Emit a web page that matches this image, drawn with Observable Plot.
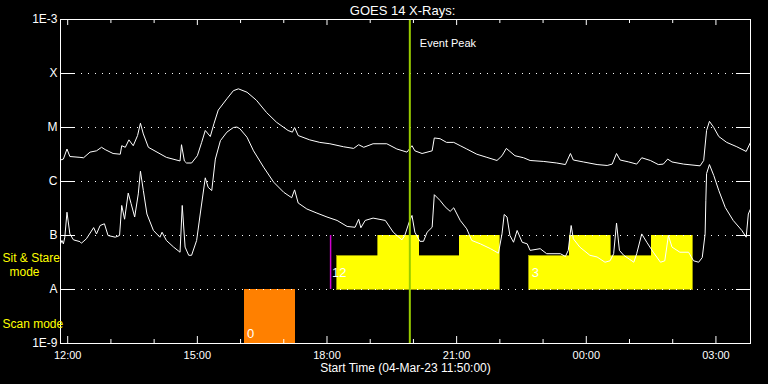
<!DOCTYPE html>
<html>
<head>
<meta charset="utf-8">
<script src="https://cdn.jsdelivr.net/npm/d3@7"></script>
<script src="https://cdn.jsdelivr.net/npm/@observablehq/plot@0.6"></script>
<style>
  html, body { margin: 0; padding: 0; background: #000; }
</style>
</head>
<body>
<div id="chart"></div>
<script>
// ---- Data (times UTC, flux W/m^2) ----
const longTimes = ["11:50","11:54","11:59","12:03","12:17","12:22","12:31","12:40","12:47","12:52","13:03","13:13","13:15","13:20","13:25","13:31","13:37","13:41","13:45","13:52","14:04","14:17","14:36","14:38","14:42","14:45","14:52","15:00","15:06","15:11","15:18","15:23","15:29","15:41","15:50","15:57","16:09","16:22","16:36","16:50","17:06","17:12","17:15","17:20","17:36","17:50","18:04","18:23","18:37","18:44","18:51","19:04","19:23","19:37","19:51","19:58","20:02","20:12","20:26","20:29","20:37","20:46","20:56","21:05","21:14","21:28","21:42","21:56","22:03","22:09","22:14","22:21","22:33","22:42","23:01","23:19","23:31","23:38","23:42","23:56","00:15","00:29","00:36","00:42","00:47","00:59","01:10","01:17","01:29","01:40","01:47","01:53","01:59","02:15","02:38","02:43","02:47","02:51","02:57","03:04","03:15","03:29","03:42","03:48"];
const longFlux = [2.5e-6,2.6e-6,4.0e-6,2.9e-6,2.8e-6,2.75e-6,3.5e-6,3.7e-6,4.3e-6,3.9e-6,3.3e-6,3.2e-6,4.6e-6,4.3e-6,5.9e-6,4.6e-6,7.1e-6,1.2e-5,7.6e-6,4.3e-6,3.5e-6,2.8e-6,2.4e-6,4.8e-6,2.4e-6,2.2e-6,2.2e-6,3.0e-6,5.3e-6,8.8e-6,6.8e-6,1.17e-5,2.1e-5,3.4e-5,4.8e-5,5.2e-5,4.5e-5,3.2e-5,1.9e-5,1.25e-5,8.8e-6,8.2e-6,1.0e-5,7.1e-6,5.9e-6,5.3e-6,5.0e-6,4.4e-6,4.1e-6,4.8e-6,4.3e-6,5.0e-6,5.0e-6,4.0e-6,3.5e-6,4.6e-6,3.7e-6,3.3e-6,3.7e-6,6.4e-6,6.2e-6,5.3e-6,5.3e-6,4.6e-6,4.0e-6,3.2e-6,2.8e-6,2.45e-6,3.0e-6,4.1e-6,3.6e-6,3.0e-6,2.75e-6,2.45e-6,2.35e-6,2.2e-6,2.06e-6,3.3e-6,2.5e-6,2.3e-6,2.06e-6,1.98e-6,2.1e-6,3.3e-6,2.5e-6,2.3e-6,2.1e-6,2.75e-6,2.45e-6,2.06e-6,2.1e-6,2.6e-6,2.3e-6,2.1e-6,1.95e-6,2.45e-6,8.8e-6,1.3e-5,1.0e-5,6.8e-6,5.3e-6,4.4e-6,3.6e-6,5.3e-6];

const shortTimes = ["11:50","11:52","11:54","11:56","11:59","12:03","12:08","12:17","12:19","12:26","12:36","12:40","12:45","12:51","12:56","13:06","13:12","13:15","13:19","13:24","13:28","13:33","13:38","13:41","13:45","13:50","13:59","14:08","14:11","14:17","14:27","14:36","14:39","14:43","14:48","14:52","14:59","15:04","15:11","15:15","15:20","15:25","15:32","15:41","15:50","15:55","15:59","16:09","16:18","16:32","16:46","17:00","17:11","17:15","17:20","17:32","17:46","18:00","18:14","18:28","18:39","18:44","18:47","18:53","19:04","19:21","19:32","19:44","19:48","19:54","19:58","20:02","20:09","20:14","20:19","20:26","20:29","20:37","20:44","20:51","20:56","21:05","21:14","21:21","21:33","21:47","21:58","22:03","22:06","22:10","22:14","22:19","22:24","22:31","22:38","22:42","22:56","23:05","23:24","23:31","23:35","23:39","23:42","23:51","00:05","00:15","00:26","00:33","00:38","00:42","00:46","00:52","01:06","01:10","01:17","01:24","01:33","01:43","01:49","01:54","01:59","02:10","02:22","02:29","02:36","02:41","02:45","02:46","02:47","02:51","02:57","03:04","03:13","03:24","03:36","03:42","03:45","03:48"];
const shortFlux = [7.0e-8,8.1e-8,7.0e-8,9.3e-8,2.7e-7,1.07e-7,8.3e-8,7.7e-8,7.2e-8,8.7e-8,1.4e-7,1.07e-7,1.53e-7,1.65e-7,1.0e-7,9.3e-8,1.0e-7,3.6e-7,2.0e-7,6.1e-7,3.9e-7,2.2e-7,5.9e-7,1.55e-6,6.8e-7,2.5e-7,1.24e-7,9.3e-8,1.15e-7,8.1e-8,6.1e-8,4.9e-8,3.6e-7,6.1e-8,4.3e-8,4.3e-8,8.1e-8,2.5e-7,1.17e-6,7.8e-7,6.8e-7,2.6e-6,5.7e-6,8.2e-6,1.0e-5,1.02e-5,9.5e-6,6.6e-6,3.7e-6,1.84e-6,9.7e-7,6.3e-7,5.0e-7,7.0e-7,4.0e-7,3.1e-7,2.6e-7,2.2e-7,1.9e-7,1.47e-7,1.42e-7,2.0e-7,1.39e-7,1.9e-7,2.1e-7,1.9e-7,1.15e-7,8.3e-8,1.0e-7,1.76e-7,2.35e-7,1.15e-7,7.8e-8,7.8e-8,1.15e-7,1.42e-7,5.7e-7,4.45e-7,3.4e-7,2.8e-7,3.26e-7,1.9e-7,1.33e-7,8.1e-8,7.0e-8,5.7e-8,4.7e-8,1.07e-7,2.45e-7,2.2e-7,1.0e-7,7.5e-8,1.24e-7,7.5e-8,7.0e-8,5.3e-8,5.7e-8,4.6e-8,4.6e-8,4.1e-8,5.3e-8,1.53e-7,8.7e-8,6.1e-8,4.3e-8,4.0e-8,3.2e-8,3.4e-8,4.6e-8,1.7e-7,5.3e-8,4.3e-8,3.2e-8,4.6e-8,1.07e-7,7.5e-8,4.9e-8,3.2e-8,3.4e-8,1.0e-7,6.1e-8,4.9e-8,4.9e-8,3.4e-8,3.2e-8,3.9e-8,1.07e-7,4.5e-7,1.4e-6,2.06e-6,1.29e-6,6.8e-7,3.3e-7,1.9e-7,1.24e-7,9.3e-8,2.5e-7,3.1e-7];

// Flux class levels and labels
const levelValues = [1e-3, 1e-4, 1e-5, 1e-6, 1e-7, 1e-8, 1e-9];
const levelLabels = ["1E-3", "X", "M", "C", "B", "A", "1E-9"];
const gridLevels = [1e-4, 1e-5, 1e-6, 1e-7, 1e-8];

// Time axis
const startTime = "11:50";
const endTime = "03:48";
const hourTicks = ["12:00","13:00","14:00","15:00","16:00","17:00","18:00","19:00","20:00","21:00","22:00","23:00","00:00","01:00","02:00","03:00"];
const majorTicks = ["12:00","15:00","18:00","21:00","00:00","03:00"];

// Instrument modes
const scanStart = ["16:05"];
const scanEnd = ["17:16"];
const scanLabel = ["0"];
const stareStart = ["18:14","19:11","20:08","21:04","22:41","23:37","00:34","01:31"];
const stareEnd   = ["19:11","20:08","21:04","22:00","23:37","00:34","01:31","02:28"];
const stareTop   = [4.1e-8, 1e-7, 4.1e-8, 1e-7, 4.1e-8, 1e-7, 4.1e-8, 1e-7];
const stareLabelTimes = ["18:14","22:41"];
const stareLabels = ["12","3"];
const modeBottom = 1e-8, modeTop = 1e-7, scanBottom = 1e-9;
const markerTime = "18:05";
const eventPeakTime = "19:55";

// ---- Helpers ----
function toDate(hhmm) {
  const [h, m] = hhmm.split(":").map(Number);
  const day = h < 11 ? 5 : 4;
  return new Date(Date.UTC(2023, 2, day, h, m));
}
const longData = longTimes.map((t, i) => ({t: toDate(t), f: longFlux[i]}));
const shortData = shortTimes.map((t, i) => ({t: toDate(t), f: shortFlux[i]}));
const stareData = stareStart.map((s, i) => ({x1: toDate(s), x2: toDate(stareEnd[i]), y2: stareTop[i]}));
const scanData = scanStart.map((s, i) => ({x1: toDate(s), x2: toDate(scanEnd[i]), label: scanLabel[i]}));
const stareLabelData = stareLabelTimes.map((t, i) => ({x: toDate(t), label: stareLabels[i]}));
const hours = hourTicks.map(toDate);
const majors = majorTicks.map(toDate);
const minors = hours.filter(h => !majors.some(m => +m === +h));

const W = 768, H = 384, mT = 19, mB = 41, mL = 60, mR = 18;
const fw = W - mL - mR, fh = H - mT - mB;
const FONT = "'Liberation Sans', 'DejaVu Sans', sans-serif";

const chart = Plot.plot({
  width: W, height: H,
  marginTop: mT, marginBottom: mB, marginLeft: mL, marginRight: mR,
  style: {background: "#000", color: "#fff", fontFamily: FONT, fontSize: "11px"},
  x: {type: "utc", domain: [toDate(startTime), toDate(endTime)]},
  y: {type: "log", domain: [1e-9, 1e-3]},
  marks: [
    // mode blocks
    Plot.rect(scanData, {x1: "x1", x2: "x2", y1: () => scanBottom, y2: () => modeBottom, fill: "#ff8000", shapeRendering: "crispEdges"}),
    Plot.rect(stareData, {x1: "x1", x2: "x2", y1: () => modeBottom, y2: "y2", fill: "#ffff00", stroke: "#ffff00", strokeWidth: 0.6, shapeRendering: "crispEdges"}),
    // dotted grid + solid inward ticks
    Plot.ruleY(gridLevels, {y: d => d, stroke: "#fff", strokeDasharray: "1,6", insetLeft: 14, insetRight: 14}),
    Plot.tickY(gridLevels, {y: d => d, stroke: "#fff", insetRight: fw - 14}),
    Plot.tickY(gridLevels, {y: d => d, stroke: "#fff", insetLeft: fw - 14}),
    // time ticks (inward, bottom and top)
    Plot.tickX(majors, {x: d => d, stroke: "#fff", insetTop: fh - 7}),
    Plot.tickX(minors, {x: d => d, stroke: "#fff", insetTop: fh - 4}),
    Plot.tickX(majors, {x: d => d, stroke: "#fff", insetBottom: fh - 6}),
    Plot.tickX(minors, {x: d => d, stroke: "#fff", insetBottom: fh - 4}),
    // axes
    Plot.axisX(majors, {tickSize: 0, tickPadding: 8, tickFormat: d3.utcFormat("%H:%M"), fill: "#fff", fontSize: 11}),
    Plot.axisY(levelValues, {tickSize: 0, tickPadding: 3, fill: "#fff", fontSize: 12,
      tickFormat: d => levelLabels[Math.round(-Math.log10(d)) - 3]}),
    // flux curves
    Plot.line(longData, {x: "t", y: "f", stroke: "#fff", strokeWidth: 1, clip: true}),
    Plot.line(shortData, {x: "t", y: "f", stroke: "#fff", strokeWidth: 1, clip: true}),
    // markers
    Plot.ruleX([toDate(markerTime)], {x: d => d, y1: () => modeBottom, y2: () => modeTop, stroke: "#d000d0", strokeWidth: 1.5}),
    Plot.ruleX([toDate(eventPeakTime)], {x: d => d, stroke: "#99cc00", strokeWidth: 2}),
    Plot.frame({stroke: "#fff"}),
    // block labels
    Plot.text(stareLabelData, {x: "x", text: "label", frameAnchor: "bottom", lineAnchor: "middle", dy: -71, dx: 9.5, textAnchor: "end", fill: "#fff", fontSize: 13}),
    Plot.text(scanData, {x: "x1", text: "label", frameAnchor: "bottom", lineAnchor: "middle", dy: -10, dx: 10, textAnchor: "end", fill: "#fff", fontSize: 13}),
    // annotations
    Plot.text([toDate(eventPeakTime)], {x: d => d, text: () => "Event Peak", frameAnchor: "top", lineAnchor: "middle", dy: 24, dx: 10, textAnchor: "start", fill: "#fff", fontSize: 11}),
    Plot.text(["GOES 14 X-Rays:"], {text: d => d, frameAnchor: "top", lineAnchor: "middle", dy: -9, dx: -3, fill: "#fff", fontSize: 13}),
    Plot.text(["Start Time (04-Mar-23 11:50:00)"], {text: d => d, frameAnchor: "bottom", lineAnchor: "middle", dy: 25, fill: "#fff", fontSize: 12}),
    Plot.text(["Sit & Stare"], {text: d => d, frameAnchor: "bottom-left", lineAnchor: "middle", dx: -58, dy: -85, textAnchor: "start", fill: "#ffff00", fontSize: 12}),
    Plot.text(["mode"], {text: d => d, frameAnchor: "bottom-left", lineAnchor: "middle", dx: -36, dy: -71, textAnchor: "middle", fill: "#ffff00", fontSize: 12}),
    Plot.text(["Scan mode"], {text: d => d, frameAnchor: "bottom-left", lineAnchor: "middle", dx: -58, dy: -19, textAnchor: "start", fill: "#ffff00", fontSize: 12})
  ]
});
document.getElementById("chart").appendChild(chart);
</script>
</body>
</html>
